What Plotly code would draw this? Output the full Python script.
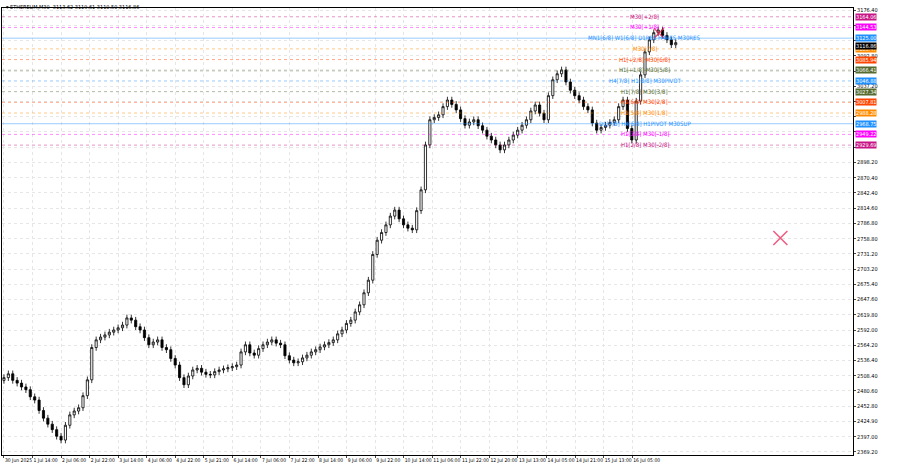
import plotly.graph_objects as go

# candle closes (M30 ETHEREUM, sampled), hours from first label
closes = [2505,2512,2500,2495,2488,2483,2470,2464,2445,2431,2420,2410,2398,2391,2418,2437,2444,2450,2472,2501,
          2560,2574,2579,2583,2588,2592,2596,2601,2614,2610,2598,2592,2578,2565,2570,2574,2560,2556,2540,2528,
          2505,2492,2508,2519,2522,2515,2511,2510,2516,2519,2521,2523,2525,2528,2552,2565,2550,2546,2558,2565,
          2570,2574,2568,2565,2545,2537,2532,2534,2541,2546,2552,2556,2561,2565,2569,2574,2585,2592,2604,2610,
          2625,2638,2660,2683,2730,2756,2770,2784,2800,2811,2795,2784,2778,2775,2810,2848,2930,2976,2980,2985,
          3000,3012,3004,2994,2978,2966,2972,2976,2965,2957,2946,2939,2930,2921,2930,2939,2948,2957,2966,2976,
          2992,3003,2988,2976,3020,3049,3060,3067,3045,3030,3020,3012,3000,2994,2970,2957,2962,2966,2971,2976,
          3000,3012,2960,2939,3010,3058,3100,3122,3135,3140,3130,3122,3113,3116.86]
first_open = 2500
step_h = 2.46

levels = [3164.06,3144.53,3125.00,3105.47,3085.94,3066.41,3046.88,3027.34,3007.81,2988.28,2968.75,2949.22,2929.69]
level_names = ["M30[+2/8]","M30[+1/8]","MN1[6/8] W1[6/8] D1RES H4RES M30RES","M30[7/8]","H1[+2/8] M30[6/8]",
               "H1[+1/8] M30[5/8]","H4[7/8] H1[8/8] M30PIVOT","H1[7/8] M30[3/8]","H1[6/8] M30[2/8]",
               "H1[5/8] M30[1/8]","D1[7/8] H4[6/8] H1PIVOT M30SUP","H1[3/8] M30[-1/8]","H1[2/8] M30[-2/8]"]
level_colors = ["#c71585","#ff00ff","#1e90ff","#ff8c00","#ff4500","#556b2f","#1e90ff","#556b2f","#ff4500",
                "#ff8c00","#1e90ff","#ff00ff","#c71585"]
level_dash = ["dash","dash","solid","dash","dash","dash","dash","dash","dash","dash","solid","dash","dash"]

ytick_vals = [3176.40,3148.60,3120.80,3092.80,3065.00,3037.20,3009.40,2981.60,2953.80,2926.00,2898.20,2870.40,
              2842.40,2814.60,2786.80,2758.80,2731.20,2703.20,2675.40,2647.60,2619.80,2592.00,2564.20,2536.40,
              2508.40,2480.60,2452.80,2424.90,2397.00,2369.20]
ytick_shown = [3176.40,3092.80,3037.20,2898.20,2870.40,2842.40,2814.60,2786.80,2758.80,2731.20,2703.20,2675.40,
               2647.60,2619.80,2592.00,2564.20,2536.40,2508.40,2480.60,2452.80,2424.90,2397.00,2369.20]
xtick_text = ["30 Jun 2025","1 Jul 14:00","2 Jul 06:00","2 Jul 22:00","3 Jul 14:00","4 Jul 06:00","4 Jul 22:00",
              "5 Jul 21:00","6 Jul 14:00","7 Jul 06:00","7 Jul 22:00","8 Jul 14:00","9 Jul 06:00","9 Jul 22:00",
              "10 Jul 14:00","11 Jul 06:00","11 Jul 22:00","12 Jul 20:00","13 Jul 13:00","14 Jul 05:00",
              "14 Jul 21:00","15 Jul 13:00","16 Jul 05:00"]
signal_x = [367, 435]
signal_y = [3134, 2760]
signal_size = [10, 14]

hours = [i*step_h for i in range(len(closes))]
opens = [first_open] + closes[:-1]
highs = [max(o, c) + 6 for o, c in zip(opens, closes)]
lows = [min(o, c) - 6 for o, c in zip(opens, closes)]

F = "DejaVu Sans Condensed"
fig = go.Figure()
fig.add_trace(go.Candlestick(x=hours, open=opens, high=highs, low=lows, close=closes,
    increasing=dict(line=dict(color="#000000", width=0.8), fillcolor="#ffffff"),
    decreasing=dict(line=dict(color="#000000", width=0.8), fillcolor="#000000"),
    whiskerwidth=0, showlegend=False))
fig.add_trace(go.Scatter(x=signal_x, y=signal_y, mode="markers",
    marker=dict(symbol="x-thin", size=signal_size, line=dict(color="#e8174a", width=1.5)), showlegend=False))

shapes = []
anns = []
for v, n, c, d in zip(levels, level_names, level_colors, level_dash):
    shapes.append(dict(type="line", xref="paper", x0=0, x1=1, y0=v, y1=v,
                       line=dict(color=c, width=1, dash="solid" if d == "solid" else "dot"), opacity=0.45))
    anns.append(dict(x=359, y=v, text=n, showarrow=False, xanchor="center", yanchor="bottom", yshift=-5,
                     font=dict(size=6, color=c, family=F)))
    anns.append(dict(xref="paper", x=1, y=v, text="%.2f" % v, showarrow=False, xanchor="left", xshift=2,
                     bgcolor=c, font=dict(size=5.5, color="white", family=F), borderpad=0))
anns.append(dict(xref="paper", x=1, y=closes[-1], text="%.2f" % closes[-1], showarrow=False, xanchor="left",
                 xshift=2, yshift=-3, bgcolor="black", font=dict(size=5.5, color="white", family=F), borderpad=0))
anns.append(dict(xref="paper", yref="paper", x=0, y=1, xanchor="left", yanchor="top", showarrow=False,
                 text="▾ ETHEREUM,M30  3113.62 3119.61 3110.50 3116.86", xshift=2, yshift=6,
                 font=dict(size=5.5, color="black", family=F)))

fig.update_layout(width=900, height=468, margin=dict(l=2, r=47, t=8, b=13),
    paper_bgcolor="white", plot_bgcolor="white", shapes=shapes, annotations=anns,
    xaxis=dict(range=[-1.1, 475.7], tickvals=[16*i for i in range(len(xtick_text))], ticktext=xtick_text,
               tickangle=0, ticklabelposition="outside right",
               tickfont=dict(size=5, family=F, color="black"),
               showgrid=True, gridcolor="#e6e6e6", griddash="dot", rangeslider=dict(visible=False),
               showline=True, linecolor="black", mirror=True, zeroline=False, ticks="outside", ticklen=2),
    yaxis=dict(range=[2363.7, 3180.1], side="right", tickvals=ytick_vals,
               ticktext=["%.2f" % v if v in ytick_shown else "" for v in ytick_vals],
               tickfont=dict(size=5.5, family=F, color="black"),
               showgrid=True, gridcolor="#e6e6e6", griddash="dot", showline=True, linecolor="black",
               mirror=True, zeroline=False, ticks="outside", ticklen=2))
fig.write_html("out.html", config={"displayModeBar": False},
               post_script="document.body.style.margin='0';document.body.style.overflow='hidden';")
